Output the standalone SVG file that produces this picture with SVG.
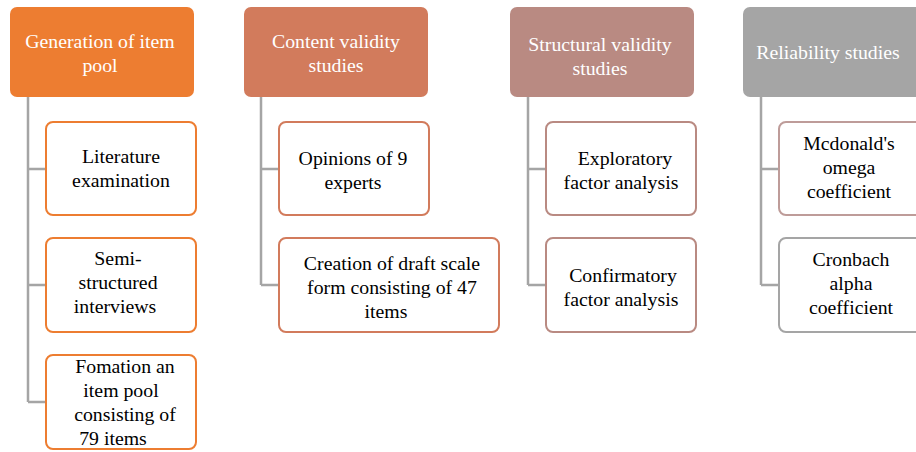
<svg xmlns="http://www.w3.org/2000/svg" width="916" height="452" viewBox="0 0 916 452">
<style>
text{font-family:"Liberation Serif","Times New Roman",serif;font-size:19.8px;text-anchor:middle}
.h text{fill:#fff}
.c text{fill:#000}
.box{fill:#fff;stroke-width:2}
.conn{fill:none;stroke:#A5A5A5;stroke-width:2.5}
</style>
<rect width="916" height="452" fill="#fff"/>
<g id="connectors" class="conn">
<path d="M28,97 V402 M28,169 H46 M28,285 H46 M28,402 H46"/>
<path d="M261,97 V285 M261,169 H279 M261,285 H279"/>
<path d="M528,97 V285 M528,169 H546 M528,285 H546"/>
<path d="M761,97 V285 M761,169 H779 M761,285 H779"/>
</g>
<g id="h1" class="h"><rect x="10" y="7" width="184" height="90" rx="7" fill="#ED7D31"/><text x="100" y="48">Generation of item</text><text x="100" y="72">pool</text></g>
<g id="h2" class="h"><rect x="244" y="7" width="184" height="90" rx="7" fill="#D27B5C"/><text x="336" y="48">Content validity</text><text x="336" y="72">studies</text></g>
<g id="h3" class="h"><rect x="510" y="7" width="184" height="90" rx="7" fill="#B98A82"/><text x="600" y="51">Structural validity</text><text x="600" y="75">studies</text></g>
<g id="h4" class="h"><rect x="743" y="7" width="184" height="90" rx="7" fill="#A5A5A5"/><text x="828" y="59">Reliability studies</text></g>
<g id="c1a" class="c"><rect class="box" x="46" y="122" width="150" height="93" rx="7" stroke="#ED7D31"/><text x="121" y="163">Literature</text><text x="121" y="187">examination</text></g>
<g id="c1b" class="c"><rect class="box" x="46" y="238" width="150" height="94" rx="7" stroke="#ED7D31"/><text x="118" y="265">Semi-</text><text x="118" y="289">structured</text><text x="115" y="313">interviews</text></g>
<g id="c1c" class="c"><rect class="box" x="46" y="355" width="150" height="94" rx="7" stroke="#ED7D31"/><text x="125" y="373">Fomation an</text><text x="121" y="397">item pool</text><text x="125" y="421">consisting of</text><text x="113" y="445">79 items</text></g>
<g id="c2a" class="c"><rect class="box" x="279" y="122" width="150" height="93" rx="7" stroke="#D27B5C"/><text x="353" y="165">Opinions of 9</text><text x="353" y="189">experts</text></g>
<g id="c2b" class="c"><rect class="box" x="279" y="238" width="220" height="94" rx="7" stroke="#D27B5C"/><text x="392" y="270">Creation of draft scale</text><text x="392" y="294">form consisting of 47</text><text x="386" y="318">items</text></g>
<g id="c3a" class="c"><rect class="box" x="546" y="122" width="150" height="93" rx="7" stroke="#B98A82"/><text x="625" y="165">Exploratory</text><text x="621" y="189">factor analysis</text></g>
<g id="c3b" class="c"><rect class="box" x="546" y="238" width="150" height="94" rx="7" stroke="#B98A82"/><text x="623" y="282">Confirmatory</text><text x="621" y="306">factor analysis</text></g>
<g id="c4a" class="c"><rect class="box" x="779" y="122" width="150" height="93" rx="7" stroke="#BE9C99"/><text x="849" y="150">Mcdonald's</text><text x="849" y="174">omega</text><text x="849" y="198">coefficient</text></g>
<g id="c4b" class="c"><rect class="box" x="779" y="238" width="150" height="94" rx="7" stroke="#A5A5A5"/><text x="851" y="266">Cronbach</text><text x="851" y="290">alpha</text><text x="851" y="314">coefficient</text></g>
</svg>
